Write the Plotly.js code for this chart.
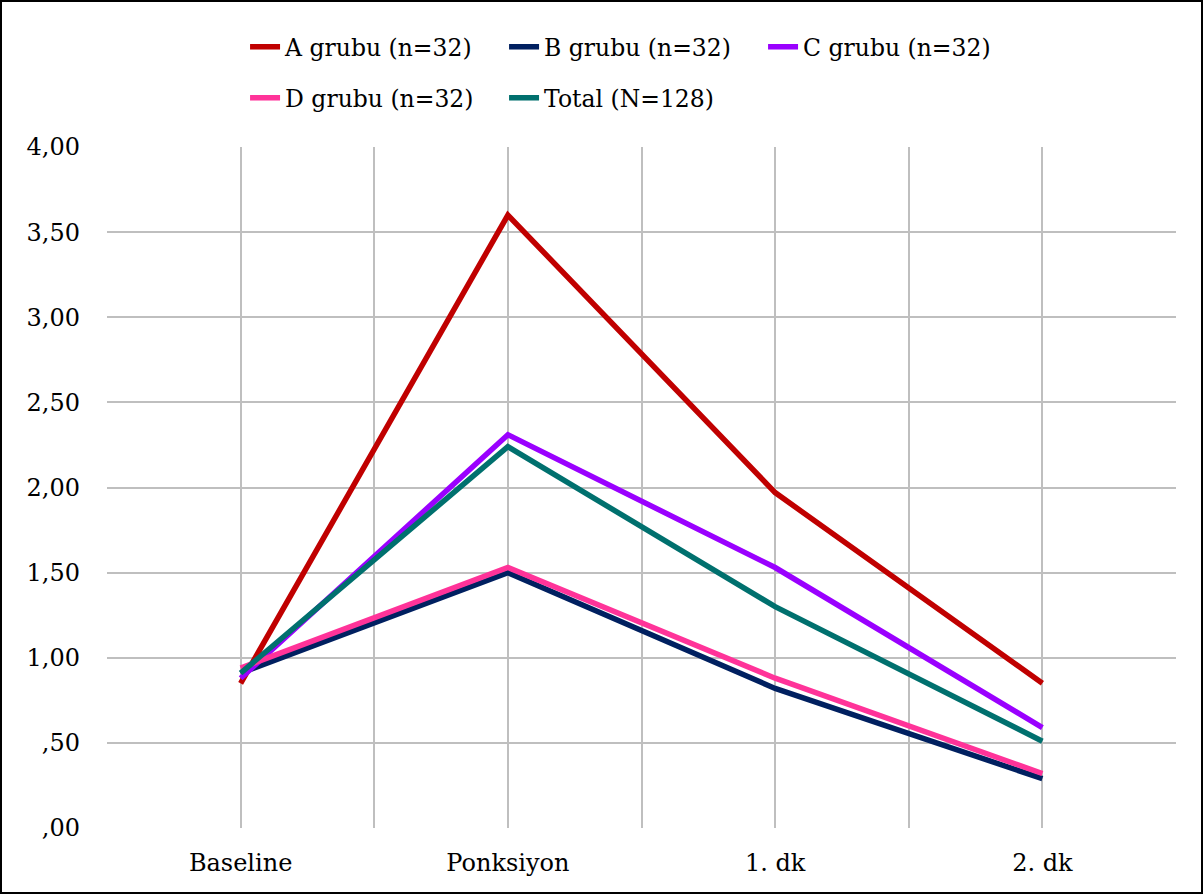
<!DOCTYPE html>
<html><head><meta charset="utf-8">
<script src="https://cdn.plot.ly/plotly-3.0.1.min.js"></script>
<style>
html,body{margin:0;padding:0;background:#fff;}
#wrap{width:1203px;height:894px;box-sizing:border-box;border:2px solid #000;position:relative;overflow:hidden;}
#chart{position:absolute;left:-2px;top:-2px;width:1203px;height:894px;}
</style></head><body>
<div id="wrap"><div id="chart"></div></div>
<script>
const categories = ["Baseline", "Ponksiyon", "1. dk", "2. dk"];
const seriesNames = ["A grubu (n=32)", "B grubu (n=32)", "C grubu (n=32)", "D grubu (n=32)", "Total (N=128)"];
const aValues = [0.85, 3.60, 1.97, 0.85];
const bValues = [0.91, 1.50, 0.82, 0.29];
const cValues = [0.88, 2.31, 1.53, 0.59];
const dValues = [0.94, 1.53, 0.88, 0.32];
const totalValues = [0.91, 2.24, 1.30, 0.51];
const yTickValues = [0, 0.5, 1, 1.5, 2, 2.5, 3, 3.5, 4];
const yTickLabels = [",00", ",50", "1,00", "1,50", "2,00", "2,50", "3,00", "3,50", "4,00"];
const colors = ["#C00000", "#002060", "#9A00FF", "#FF3399", "#00706E"];
const legendRow = ["legend", "legend", "legend", "legend2", "legend2"];

const allValues = [aValues, bValues, cValues, dValues, totalValues];
const xIdx = categories.map((_, i) => i);
const traces = allValues.map((vals, k) => ({
  type: "scatter", mode: "lines", name: seriesNames[k],
  x: xIdx, y: vals, legend: legendRow[k],
  line: {color: colors[k], width: 5.5}
}));

const xTickVals = [], xTickText = [];
for (let i = -0.5; i <= categories.length - 0.5 + 1e-9; i += 0.5) {
  xTickVals.push(i);
  const r = Math.round(i);
  xTickText.push(Math.abs(i - r) < 1e-9 && r >= 0 && r < categories.length ? categories[r] : "");
}

const fam = "DejaVu Serif, Liberation Serif, serif";
const legFont = {family: fam, size: 23.5, color: "#000"};
const legBase = {orientation: "h", xref: "container", yref: "container", x: 0.2037, xanchor: "left",
  yanchor: "middle", font: legFont, itemwidth: 30, tracegroupgap: 0,
  entrywidth: 214, entrywidthmode: "pixels", bgcolor: "rgba(0,0,0,0)"};
const layout = {
  width: 1203, height: 894,
  margin: {l: 107, r: 27, t: 147, b: 66, autoexpand: false},
  paper_bgcolor: "#fff", plot_bgcolor: "#fff",
  font: {family: fam, size: 24, color: "#000"},
  showlegend: true,
  legend: Object.assign({}, legBase, {y: 1 - 47/894}),
  legend2: Object.assign({}, legBase, {y: 1 - 98/894}),
  xaxis: {range: [-0.5, categories.length - 0.5], tickmode: "array", tickvals: xTickVals, ticktext: xTickText,
          showgrid: true, gridcolor: "#BFBFBF", gridwidth: 2, zeroline: false, showline: false,
          ticks: "", ticklabelstandoff: 18, fixedrange: true},
  yaxis: {range: [0, 4], tickmode: "array", tickvals: yTickValues, ticktext: yTickLabels,
          showgrid: true, gridcolor: "#BFBFBF", gridwidth: 2, zeroline: false, showline: false,
          ticks: "", ticklabelstandoff: 26, fixedrange: true}
};
Plotly.newPlot("chart", traces, layout, {displayModeBar: false, staticPlot: true});
</script></body></html>
